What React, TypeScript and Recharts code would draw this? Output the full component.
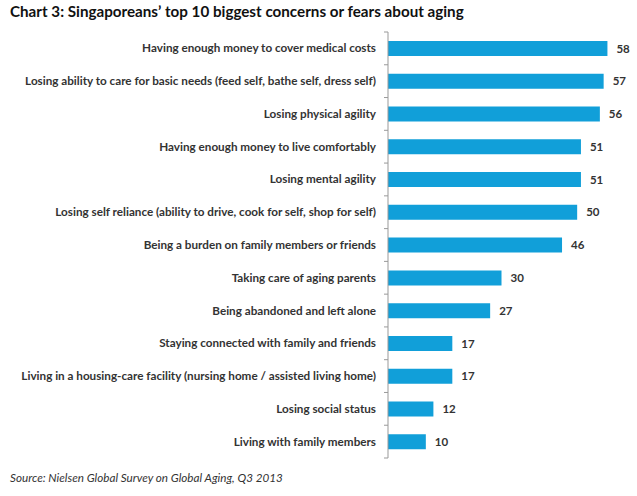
import React from "react";
import { BarChart, Bar, XAxis, YAxis, LabelList } from "recharts";

const categories = [
  "Having enough money to cover medical costs",
  "Losing ability to care for basic needs (feed self, bathe self, dress self)",
  "Losing physical agility",
  "Having enough money to live comfortably",
  "Losing mental agility",
  "Losing self reliance (ability to drive, cook for self, shop for self)",
  "Being a burden on family members or friends",
  "Taking care of aging parents",
  "Being abandoned and left alone",
  "Staying connected with family and friends",
  "Living in a housing-care facility (nursing home / assisted living home)",
  "Losing social status",
  "Living with family members",
];
const values = [58, 57, 56, 51, 51, 50, 46, 30, 27, 17, 17, 12, 10];

const data = categories.map((name, i) => ({ name, value: values[i] }));

const TOP = 32;
const BOTTOM = 458;
const BAND = (BOTTOM - TOP) / categories.length;
const FONT = "Lato, 'Open Sans', sans-serif";

const CatTick = (props: any) => {
  const { x, y, payload, index } = props;
  const ax = x + 8;
  return (
    <g>
      <line x1={ax - 4} x2={ax} y1={y - BAND / 2} y2={y - BAND / 2} stroke="#999" />
      {index === categories.length - 1 && (
        <line x1={ax - 4} x2={ax} y1={y + BAND / 2} y2={y + BAND / 2} stroke="#999" />
      )}
      <text
        x={x - 4}
        y={y}
        dy={4}
        textAnchor="end"
        fontFamily={FONT}
        fontWeight={700}
        fontSize={11.7}
        fill="#333"
      >
        {payload.value}
      </text>
    </g>
  );
};

export default function App() {
  return (
    <div style={{ position: "absolute", left: 0, top: 0, width: 637, height: 496, background: "#fff" }}>
      <div
        style={{
          position: "absolute",
          left: 10,
          top: 2,
          fontFamily: FONT,
          fontWeight: 700,
          fontSize: 15.2,
          color: "#111",
          whiteSpace: "nowrap",
        }}
      >
        Chart 3: Singaporeans’ top 10 biggest concerns or fears about aging
      </div>
      <BarChart
        width={637}
        height={496}
        data={data}
        layout="vertical"
        margin={{ top: TOP, bottom: 496 - BOTTOM, left: 8, right: 22 }}
        barCategoryGap={0}
      >
        <XAxis type="number" domain={[0, 60]} hide />
        <YAxis
          type="category"
          dataKey="name"
          width={380}
          tickLine={false}
          axisLine={{ stroke: "#999" }}
          tick={<CatTick />}
          interval={0}
        />
        <Bar dataKey="value" fill="#119fd9" barSize={15} isAnimationActive={false}>
          <LabelList
            dataKey="value"
            position="right"
            offset={9}
            fontFamily={FONT}
            fontWeight={700}
            fontSize={11.5}
            fill="#333"
          />
        </Bar>
      </BarChart>
      <div
        style={{
          position: "absolute",
          left: 10,
          top: 470,
          fontFamily: FONT,
          fontStyle: "italic",
          fontSize: 11.7,
          color: "#333",
          whiteSpace: "nowrap",
        }}
      >
        Source: Nielsen Global Survey on Global Aging, Q3 2013
      </div>
    </div>
  );
}
